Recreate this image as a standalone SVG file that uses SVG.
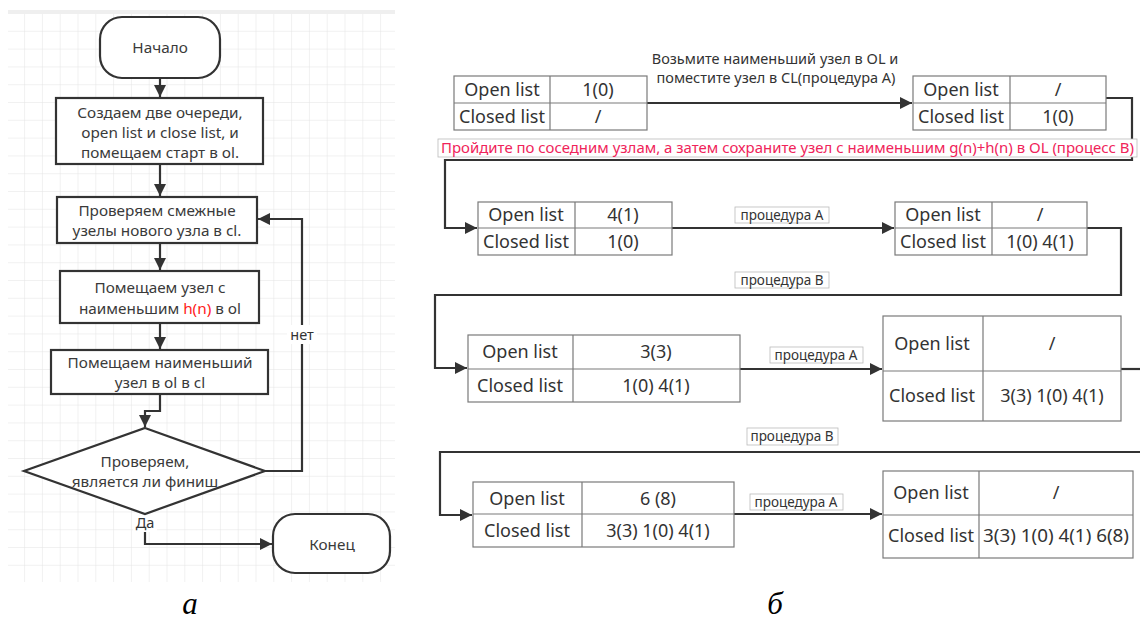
<svg xmlns="http://www.w3.org/2000/svg" width="1140" height="619" viewBox="0 0 1140 619">
<style>
.fc{font-family:"Noto Sans","DejaVu Sans",sans-serif;font-size:15.3px;fill:#3a3a3a;text-anchor:middle}
.sm{font-family:"Noto Sans","DejaVu Sans",sans-serif;font-size:14.5px;fill:#333;text-anchor:middle}
.box{fill:#fff;stroke:#333;stroke-width:2.2}
.ln{fill:none;stroke:#333;stroke-width:2.2}
.tb{fill:#fff;stroke:#7a7a7a;stroke-width:1.2}
.tl{fill:none;stroke:#7a7a7a;stroke-width:1.2}
.tt{font-family:"Noto Sans","DejaVu Sans",sans-serif;font-size:18px;fill:#333;text-anchor:middle}
.lb{font-family:"Noto Sans","DejaVu Sans",sans-serif;font-size:13.5px;fill:#333;text-anchor:middle}
.lbx{fill:#fff;stroke:#bbb;stroke-width:0.8}
.cap{font-family:"Liberation Serif","Times New Roman",serif;font-style:italic;font-size:31px;fill:#000;text-anchor:middle}
</style>
<defs>
<pattern id="grid" x="7.3" y="14" width="17.8" height="17.8" patternUnits="userSpaceOnUse">
<path d="M17.8 0V17.8M0 17.8H17.8" fill="none" stroke="#e3e3e3" stroke-width="1"/>
</pattern>
<marker id="ah" markerUnits="userSpaceOnUse" markerWidth="14" markerHeight="12" refX="12" refY="6" orient="auto">
<path d="M0 0L12 6L0 12Z" fill="#333"/>
</marker>
</defs>
<rect x="0" y="0" width="1140" height="619" fill="#fff"/>
<g id="grid-bg">
<rect x="8" y="10" width="387" height="572" fill="url(#grid)"/>
<rect x="8" y="10" width="387" height="4" fill="#efefef"/>
</g>

<g id="connectors">
<path class="ln" d="M160 78V97" marker-end="url(#ah)"/>
<path class="ln" d="M160 164V196" marker-end="url(#ah)"/>
<path class="ln" d="M160 243V270" marker-end="url(#ah)"/>
<path class="ln" d="M160 323V349" marker-end="url(#ah)"/>
<path class="ln" d="M160 394V411H145V427" marker-end="url(#ah)"/>
<path class="ln" d="M265 471H302V219H258" marker-end="url(#ah)"/>
<path class="ln" d="M145 514V544H272" marker-end="url(#ah)"/>
<path class="ln" d="M647 103H912" marker-end="url(#ah)"/>
<path class="ln" d="M1106 98H1132V160H445V228H477" marker-end="url(#ah)"/>
<path class="ln" d="M672 228H894" marker-end="url(#ah)"/>
<path class="ln" d="M1087 228H1121V295H435V368H467" marker-end="url(#ah)"/>
<path class="ln" d="M740 369H882" marker-end="url(#ah)"/>
<path class="ln" d="M1121 369H1140"/>
<path class="ln" d="M1140 452H440V515H472" marker-end="url(#ah)"/>
<path class="ln" d="M734 514H882" marker-end="url(#ah)"/>
</g>

<g id="conn-labels">
<rect x="287" y="325" width="30" height="19" fill="#fff"/>
<text class="sm" x="302" y="340">нет</text>
<rect x="133" y="513" width="24" height="19" fill="#fff"/>
<text class="sm" x="145" y="528">Да</text>
<text class="sm" x="775" y="64">Возьмите наименьший узел в OL и</text>
<text class="sm" x="776" y="83">поместите узел в CL(процедура A)</text>
<rect x="438" y="139" width="699" height="18" fill="#fff" stroke="#bbb" stroke-width="0.8"/>
<text x="441" y="153" font-family="Noto Sans, DejaVu Sans, sans-serif" font-size="13.5" fill="#f0245a" textLength="693" lengthAdjust="spacingAndGlyphs">Пройдите по соседним узлам, а затем сохраните узел с наименьшим g(n)+h(n) в OL (процесс B)</text>
<rect class="lbx" x="735" y="207" width="94" height="16"/>
<text class="lb" x="782" y="220">процедура A</text>
<rect class="lbx" x="735" y="272" width="94" height="16"/>
<text class="lb" x="782" y="285">процедура B</text>
<rect class="lbx" x="770" y="347" width="93" height="16"/>
<text class="lb" x="816" y="360">процедура A</text>
<rect class="lbx" x="747" y="428" width="91" height="17"/>
<text class="lb" x="792" y="441">процедура B</text>
<rect class="lbx" x="750" y="494" width="93" height="16"/>
<text class="lb" x="796" y="507">процедура A</text>
</g>

<g id="start">
<rect class="box" x="100" y="17" width="120" height="61" rx="22"/>
<text class="fc" x="160" y="53">Начало</text>
</g>
<g id="create-queues">
<rect class="box" x="56" y="98" width="207" height="66"/>
<text class="fc" x="160" y="118">Создаем две очереди,</text>
<text class="fc" x="160" y="138">open list и close list, и</text>
<text class="fc" x="160" y="158">помещаем старт в ol.</text>
</g>
<g id="check-adjacent">
<rect class="box" x="57" y="197" width="200" height="46"/>
<text class="fc" x="157" y="216">Проверяем смежные</text>
<text class="fc" x="157" y="236">узелы нового узла в cl.</text>
</g>
<g id="put-min-h">
<rect class="box" x="60" y="271" width="199" height="52"/>
<text class="fc" x="160" y="293">Помещаем узел с</text>
<text class="fc" x="160" y="314">наименьшим <tspan fill="#ff2020">h(n)</tspan> в ol</text>
</g>
<g id="move-min">
<rect class="box" x="51" y="350" width="217" height="44"/>
<text class="fc" x="160" y="368">Помещаем наименьший</text>
<text class="fc" x="160" y="388">узел в ol в cl</text>
</g>
<g id="is-finish">
<path class="box" d="M145 428L265 471L145 514L24 471Z"/>
<text class="fc" x="145" y="467">Проверяем,</text>
<text class="fc" x="145" y="487">является ли финиш</text>
</g>
<g id="end">
<rect class="box" x="273" y="514" width="117" height="59" rx="22"/>
<text class="fc" x="332" y="550">Конец</text>
</g>

<g id="table1">
<rect class="tb" x="454" y="76" width="193" height="54"/>
<path class="tl" d="M550 76V130M454 103H647"/>
<text class="tt" x="502" y="96">Open list</text><text class="tt" x="598" y="96">1(0)</text>
<text class="tt" x="502" y="123">Closed list</text><text class="tt" x="598" y="123">/</text>
</g>
<g id="table2">
<rect class="tb" x="913" y="76" width="193" height="54"/>
<path class="tl" d="M1010 76V130M913 103H1106"/>
<text class="tt" x="961" y="96">Open list</text><text class="tt" x="1058" y="96">/</text>
<text class="tt" x="961" y="123">Closed list</text><text class="tt" x="1058" y="123">1(0)</text>
</g>
<g id="table3">
<rect class="tb" x="478" y="202" width="194" height="53"/>
<path class="tl" d="M575 202V255M478 228H672"/>
<text class="tt" x="526" y="221">Open list</text><text class="tt" x="623" y="221">4(1)</text>
<text class="tt" x="526" y="248">Closed list</text><text class="tt" x="623" y="248">1(0)</text>
</g>
<g id="table4">
<rect class="tb" x="895" y="202" width="192" height="53"/>
<path class="tl" d="M992 202V255M895 228H1087"/>
<text class="tt" x="943" y="221">Open list</text><text class="tt" x="1040" y="221">/</text>
<text class="tt" x="943" y="248">Closed list</text><text class="tt" x="1040" y="248">1(0) 4(1)</text>
</g>
<g id="table5">
<rect class="tb" x="468" y="335" width="272" height="67"/>
<path class="tl" d="M573 335V402M468 369H740"/>
<text class="tt" x="520" y="358">Open list</text><text class="tt" x="656" y="358">3(3)</text>
<text class="tt" x="520" y="392">Closed list</text><text class="tt" x="656" y="392">1(0) 4(1)</text>
</g>
<g id="table6">
<rect class="tb" x="883" y="316" width="238" height="105"/>
<path class="tl" d="M983 316V421M883 371H1121"/>
<text class="tt" x="932" y="350">Open list</text><text class="tt" x="1052" y="350">/</text>
<text class="tt" x="932" y="402">Closed list</text><text class="tt" x="1052" y="402">3(3) 1(0) 4(1)</text>
</g>
<g id="table7">
<rect class="tb" x="473" y="482" width="261" height="65"/>
<path class="tl" d="M582 482V547M473 514H734"/>
<text class="tt" x="527" y="505">Open list</text><text class="tt" x="658" y="505">6 (8)</text>
<text class="tt" x="527" y="537">Closed list</text><text class="tt" x="658" y="537">3(3) 1(0) 4(1)</text>
</g>
<g id="table8">
<rect class="tb" x="883" y="471" width="250" height="87"/>
<path class="tl" d="M979 471V558M883 515H1133"/>
<text class="tt" x="931" y="499">Open list</text><text class="tt" x="1056" y="499">/</text>
<text class="tt" x="931" y="542">Closed list</text><text class="tt" x="1056" y="542" textLength="146" lengthAdjust="spacingAndGlyphs">3(3) 1(0) 4(1) 6(8)</text>
</g>

<g id="captions">
<text class="cap" x="190" y="614">а</text>
<text class="cap" x="775" y="614">б</text>
</g>
</svg>
